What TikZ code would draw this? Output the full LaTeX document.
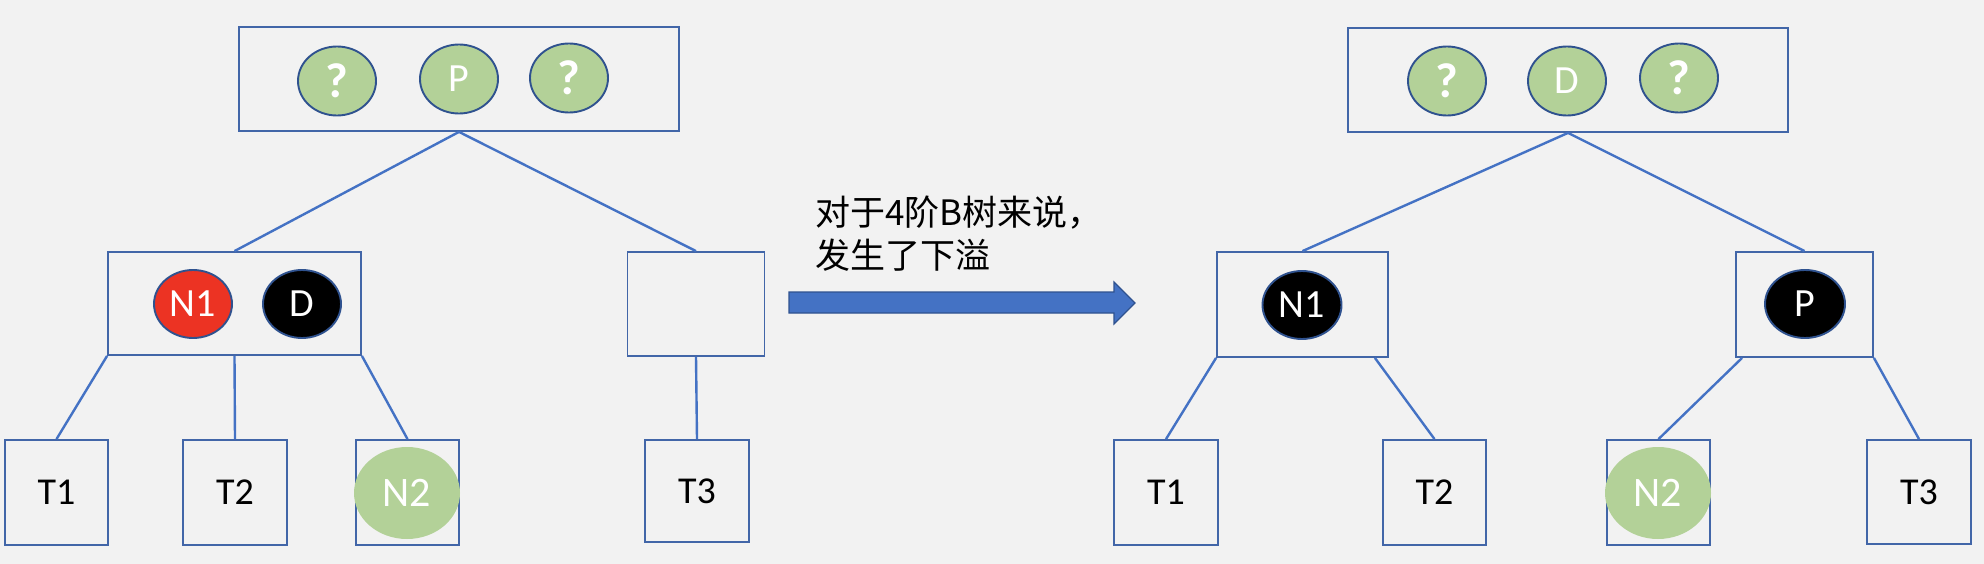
\documentclass[tikz,border=0pt]{standalone}
\usepackage{fontspec}
\setmainfont{Carlito}
\newfontfamily\cjk{Noto Sans CJK SC}
\usetikzlibrary{shapes.geometric,calc}
\definecolor{bgc}{HTML}{F2F2F2}
\definecolor{lineblue}{HTML}{4472C4}
\definecolor{boxblue}{HTML}{4266A8}
\definecolor{ellblue}{HTML}{2F528F}
\definecolor{keygreen}{HTML}{B3D198}
\definecolor{keyred}{HTML}{EC3323}
\tikzset{
  nodebox/.style={draw=boxblue, line width=1.8pt, rectangle, inner sep=0pt},
  treeedge/.style={draw=lineblue, line width=2.4pt},
  keyell/.style={ellipse, draw=ellblue, line width=1.9pt, inner sep=0pt, minimum width=78pt, minimum height=69pt, text=white, font=\fontsize{40}{43}\selectfont},
  greenkey/.style={keyell, fill=keygreen},
  blackkey/.style={keyell, fill=black},
  redkey/.style={keyell, fill=keyred},
  qmark/.style={greenkey, font=\fontsize{49}{52}\selectfont\bfseries},
  bigkey/.style={ellipse, fill=keygreen, inner sep=0pt, minimum width=106pt, minimum height=92pt, text=white, font=\fontsize{42}{46}\selectfont},
  leaflabel/.style={font=\fontsize{38}{41}\selectfont, text=black},
}
\begin{document}
\begin{tikzpicture}[x=1pt,y=-1pt]
\fill[bgc] (0,0) rectangle (1984,564);
\useasboundingbox (0,0) rectangle (1984,564);

% ---------- left tree ----------
\node[nodebox, minimum width=440pt, minimum height=104pt] (topL) at (459,79) {};
\node[nodebox, minimum width=253pt, minimum height=103pt] (midL1) at (234.5,303.5) {};
\node[nodebox, minimum width=137pt, minimum height=104pt] (midL2) at (696,304) {};
\node[nodebox, minimum width=103pt, minimum height=105pt] (T1L) at (56.5,492.5) {};
\node[nodebox, minimum width=104pt, minimum height=105pt] (T2L) at (235,492.5) {};
\node[nodebox, minimum width=103pt, minimum height=105pt] (N2Lb) at (407.5,492.5) {};
\node[nodebox, minimum width=104pt, minimum height=102pt] (T3L) at (697,491) {};

\node[leaflabel] (t1L) at (T1L.center) {T1};
\node[leaflabel] (t2L) at (T2L.center) {T2};
\node[leaflabel] (t3L) at (T3L.center) {T3};

\draw[treeedge] (topL.south) -- (midL1.north);
\draw[treeedge] (topL.south) -- (midL2.north);
\draw[treeedge] (midL1.south west) -- (T1L.north);
\draw[treeedge] (midL1.south) -- (T2L.north);
\draw[treeedge] (midL1.south east) -- (N2Lb.north);
\draw[treeedge] (midL2.south) -- (T3L.north);

\node[qmark] (q1L) at (337,81) {?};
\node[greenkey] (pL) at (459,79) {P};
\node[qmark] (q2L) at (569,78) {?};
\node[redkey, minimum height=68pt] (n1L) at (193,304) {N1};
\node[blackkey, minimum height=68pt] (dL) at (302,304) {D};
\node[bigkey] (n2L) at (407,493) {N2};

% ---------- arrow and caption ----------
\filldraw[fill=lineblue, draw=ellblue, line width=1.2pt]
  (789,292) -- (1114,292) -- (1114,282) -- (1135,303) -- (1114,324) -- (1114,313) -- (789,313) -- cycle;
\node[anchor=north west, inner sep=0pt, align=left, font=\cjk\fontsize{35}{43}\selectfont] (cap) at (815,196)
  {对于4阶B树来说，\\发生了下溢};

% ---------- right tree ----------
\node[nodebox, minimum width=440pt, minimum height=104pt] (topR) at (1568,80) {};
\node[nodebox, minimum width=171pt, minimum height=105pt] (midR1) at (1302.5,304.5) {};
\node[nodebox, minimum width=137pt, minimum height=105pt] (midR2) at (1804.5,304.5) {};
\node[nodebox, minimum width=104pt, minimum height=105pt] (T1R) at (1166,492.5) {};
\node[nodebox, minimum width=103pt, minimum height=105pt] (T2R) at (1434.5,492.5) {};
\node[nodebox, minimum width=103pt, minimum height=105pt] (N2Rb) at (1658.5,492.5) {};
\node[nodebox, minimum width=104pt, minimum height=104pt] (T3R) at (1919,492) {};

\node[leaflabel] (t1R) at (T1R.center) {T1};
\node[leaflabel] (t2R) at (T2R.center) {T2};
\node[leaflabel] (t3R) at (T3R.center) {T3};

\coordinate (r1se) at ($(midR1.south east)+(-14,0)$);
\coordinate (r2sw) at ($(midR2.south west)+(7,0)$);
\draw[treeedge] (topR.south) -- (midR1.north);
\draw[treeedge] (topR.south) -- (midR2.north);
\draw[treeedge] (midR1.south west) -- (T1R.north);
\draw[treeedge] (r1se) -- (T2R.north);
\draw[treeedge] (r2sw) -- (N2Rb.north);
\draw[treeedge] (midR2.south east) -- (T3R.north);

\node[qmark] (q1R) at (1447,81) {?};
\node[greenkey] (dR) at (1567,81) {D};
\node[qmark] (q2R) at (1679,78) {?};
\node[blackkey, minimum width=79pt, minimum height=68pt] (n1R) at (1302,305) {N1};
\node[blackkey, minimum width=80pt, minimum height=68pt] (pR) at (1805,304) {P};
\node[bigkey] (n2R) at (1658,493) {N2};
\end{tikzpicture}
\end{document}
